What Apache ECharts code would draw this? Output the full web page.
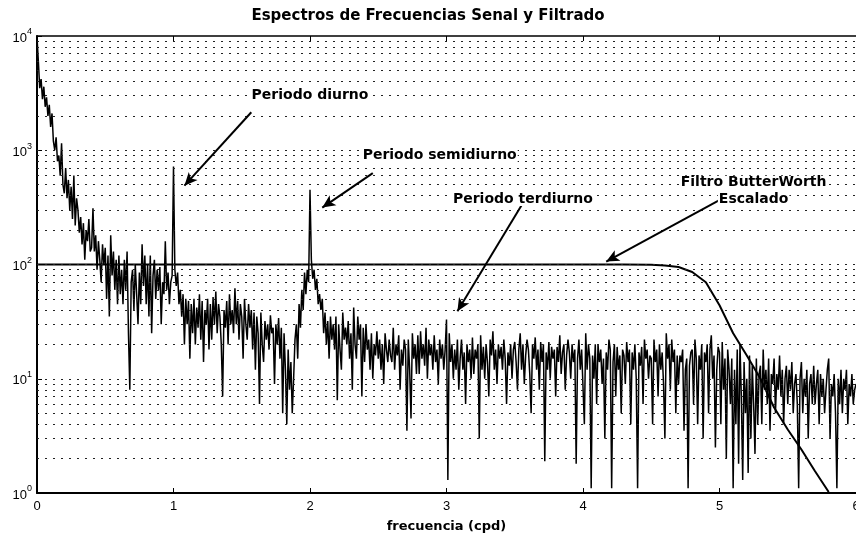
<!DOCTYPE html>
<html><head><meta charset="utf-8">
<script src="https://cdn.jsdelivr.net/npm/echarts@6/dist/echarts.min.js"></script>
<style>html,body{margin:0;padding:0;background:#fff}#c{width:856px;height:533px}</style>
</head><body><div id="c"></div>
<script>
// ---- data ----
const titleText = 'Espectros de Frecuencias Senal y Filtrado';
const xName = 'frecuencia (cpd)';
const xTicks = [0, 1, 2, 3, 4, 5, 6];
const yTickExps = [0, 1, 2, 3, 4];
const freqStep = 0.01; // spectrum sampled every 0.01 cpd from 0 to 6 (one row = 0.1 cpd)
const spectrum = [
  9800,6000,3500,4200,2800,3600,2400,2900,2000,2500,
  1600,2100,1200,1000,1300,800,900,600,1150,500,
  420,700,380,550,300,480,250,600,220,380,
  300,190,260,150,230,110,200,160,250,130,
  140,310,130,180,90,160,110,70,150,100,
  140,50,120,35,180,80,130,60,110,45,
  120,55,90,45,110,60,130,25,8,70,
  90,40,100,55,30,85,45,150,65,120,
  45,100,35,120,25,80,110,50,90,60,
  95,30,70,55,160,60,85,45,70,80,
  720,90,65,85,45,60,35,55,20,50,
  30,48,15,45,25,50,20,42,28,55,
  22,48,14,40,30,50,18,45,22,52,
  30,58,25,45,35,20,7,40,28,48,
  20,55,30,40,25,62,30,48,22,45,
  35,15,50,30,22,45,28,40,18,38,
  12,35,25,6,38,20,14,32,22,30,
  18,36,25,28,9,30,20,34,15,28,
  5,25,12,4,18,8,14,5,10,22,
  30,15,45,28,60,40,85,55,90,70,
  450,110,75,90,60,75,45,55,40,50,
  25,38,20,32,15,35,22,30,18,35,
  6.5,30,18,12,38,22,28,20,32,15,
  25,8,42,20,15,35,22,30,7,28,
  14,30,18,22,12,25,10,20,16,26,
  15,22,12,20,9,25,18,14,22,16,
  14,28,12,20,16,24,8,18,13,22,
  18,3.5,22,12,4.5,25,15,20,11,24,
  11,26,15,20,13,28,10,22,16,20,
  12,24,14,18,9,22,15,20,12,18,
  33,1.3,25,14,20,10,18,12,22,8,
  15,22,12,17,6,20,14,18,10,23,
  11,18,15,20,3,24,12,19,10,20,
  14,7,22,16,26,12,18,9,20,15,
  19,12,22,15,6,17,13,20,10,18,
  21,14,8,18,25,12,20,9,16,22,
  18,11,5,20,15,23,12,18,8,21,
  14,20,1.9,17,12,21,10,19,15,18,
  7,19,14,24,11,17,20,8,16,22,
  17,10,20,14,18,1.8,15,22,12,18,
  18,4,25,12,20,15,1.1,16,10,20,
  6,20,14,18,9,15,3,17,12,22,
  18,1.1,14,20,7,19,12,16,5,18,
  16,9,21,14,18,4,17,12,20,10,
  1.1,17,13,19,6,22,15,18,10,16,
  15,4,22,14,18,7,20,12,17,9,
  3,25,15,20,8,22,14,18,5,16,
  9,16,14,18,3.5,12,15,1.1,13,17,
  18,6,22,15,4,16,12,20,3,17,
  14,20,5,18,24,10,16,2.5,12,19,
  17,4,21,8,15,2,18,12,6,15,
  1.1,12,4,18,1.8,20,7,1.3,14,5,
  10,1.5,16,3,13,6,2.2,15,4,11,
  13,4,18,8,12,6,15,3.5,11,9,
  15,5,11,8,16,7,12,4,10,13,
  6,12,8,14,5,9,11,6,1.1,10,
  14,5,10,7,12,3,9,11,6,13,
  6,9,12,4,11,7,10,5,8,12,
  15,3,9,7,11,5,1.1,10,6,12,
  5,10,8,12,4,9,7,11,6,8,
  9
];
const filterFreq = [0, 4.3, 4.5, 4.6, 4.7, 4.8, 4.9, 5.0, 5.1, 5.2, 5.3, 5.4, 5.5, 5.6, 5.7, 5.8];
const filterVals = [100, 100, 99.5, 98, 95, 86, 70, 44, 25, 16, 10, 5.6, 3.6, 2.4, 1.55, 1.02];
const gridValues = [2,3,4,5,6,7,8,9,10,20,30,40,50,60,70,80,90,100,200,300,400,500,600,700,800,900,1000,2000,3000,4000,5000,6000,7000,8000,9000];
const annotTexts = [
  {text: 'Periodo diurno', x: 2.0, y: 3050},
  {text: 'Periodo semidiurno', x: 2.95, y: 900},
  {text: 'Periodo terdiurno', x: 3.56, y: 375},
  {text: 'Filtro ButterWorth', x: 5.25, y: 520},
  {text: 'Escalado', x: 5.25, y: 370}
];
const arrows = [
  {from: [1.57, 2150], to: [1.08, 490]},
  {from: [2.46, 630], to: [2.09, 315]},
  {from: [3.55, 330], to: [3.08, 39]},
  {from: [5.06, 400], to: [4.17, 106]}
];

// ---- build chart ----
const FONT = 'Liberation Sans';
const BFONT = 'DejaVu Sans';
const specData = spectrum.map((v, i) => [+(i * freqStep).toFixed(2), v]);
const filtData = filterFreq.map((f, i) => [f, filterVals[i]]);

const chart = echarts.init(document.getElementById('c'), null, {renderer: 'canvas'});
chart.setOption({
  animation: false,
  backgroundColor: '#fff',
  title: {
    text: titleText, left: 'center', top: 4,
    textStyle: {fontFamily: BFONT, fontWeight: 'bold', fontSize: 15, color: '#000'}
  },
  grid: {left: 37, right: 0, top: 36, bottom: 40, containLabel: false, outerBoundsMode: 'none'},
  xAxis: [{
    type: 'value', min: 0, max: 6, interval: 1,
    name: xName, nameLocation: 'middle', nameGap: 27,
    nameTextStyle: {fontFamily: BFONT, fontWeight: 'bold', fontSize: 13, color: '#000'},
    axisLine: {show: true, onZero: false, lineStyle: {color: '#000', width: 2}},
    axisTick: {show: true, inside: true, length: 5, lineStyle: {color: '#000'}},
    axisLabel: {fontFamily: FONT, fontSize: 13, color: '#000', margin: 7,
      formatter: v => xTicks.includes(v) ? String(v) : ''},
    splitLine: {show: false}
  }, {
    type: 'value', min: 0, max: 6, interval: 1, position: 'top',
    axisLine: {show: true, onZero: false, lineStyle: {color: '#000', width: 1.5}},
    axisTick: {show: true, inside: true, length: 5, lineStyle: {color: '#000'}},
    axisLabel: {show: false}, splitLine: {show: false}
  }],
  yAxis: {
    type: 'log', logBase: 10, min: 1, max: 10000,
    axisLine: {show: true, onZero: false, lineStyle: {color: '#000', width: 2}},
    axisTick: {show: true, inside: true, length: 5, lineStyle: {color: '#000'}},
    splitLine: {show: false},
    axisLabel: {
      margin: 5,
      formatter: v => {
        const e = Math.round(Math.log10(v));
        return yTickExps.includes(e) ? '{b|10}{s|' + e + '}' : '';
      },
      rich: {
        b: {fontFamily: FONT, fontSize: 13, color: '#000', verticalAlign: 'bottom'},
        s: {fontFamily: FONT, fontSize: 9, color: '#000', verticalAlign: 'bottom', padding: [0, 0, 8, 0]}
      }
    }
  },
  series: [{
    type: 'line', data: [], silent: true, z: 1,
    markLine: {
      silent: true, symbol: ['none', 'none'], animation: false,
      label: {show: false},
      lineStyle: {color: '#222', width: 1, type: [2, 6]},
      data: gridValues.map(v => ({yAxis: v}))
    }
  }, {
    type: 'line', data: specData, showSymbol: false, z: 3, clip: true,
    lineStyle: {color: '#000', width: 1.5}
  }, {
    type: 'line', data: filtData, showSymbol: false, z: 4, clip: true,
    lineStyle: {color: '#000', width: 2}
  }, {
    type: 'line', data: [], silent: true, z: 5,
    markLine: {
      silent: true, symbol: ['none', 'arrow'], symbolSize: [9, 13], animation: false,
      label: {show: false},
      lineStyle: {color: '#000', width: 2, type: 'solid'},
      data: arrows.map(a => [{coord: a.from}, {coord: a.to}])
    },
    markPoint: {
      silent: true, symbol: 'circle', symbolSize: 0, animation: false,
      label: {show: true, position: 'inside', fontFamily: BFONT, fontWeight: 'bold', fontSize: 14,
        color: '#000', backgroundColor: '#fff', padding: [0, 1]},
      data: annotTexts.map(t => ({coord: [t.x, t.y], label: {formatter: t.text}}))
    }
  }]
});
</script></body></html>
